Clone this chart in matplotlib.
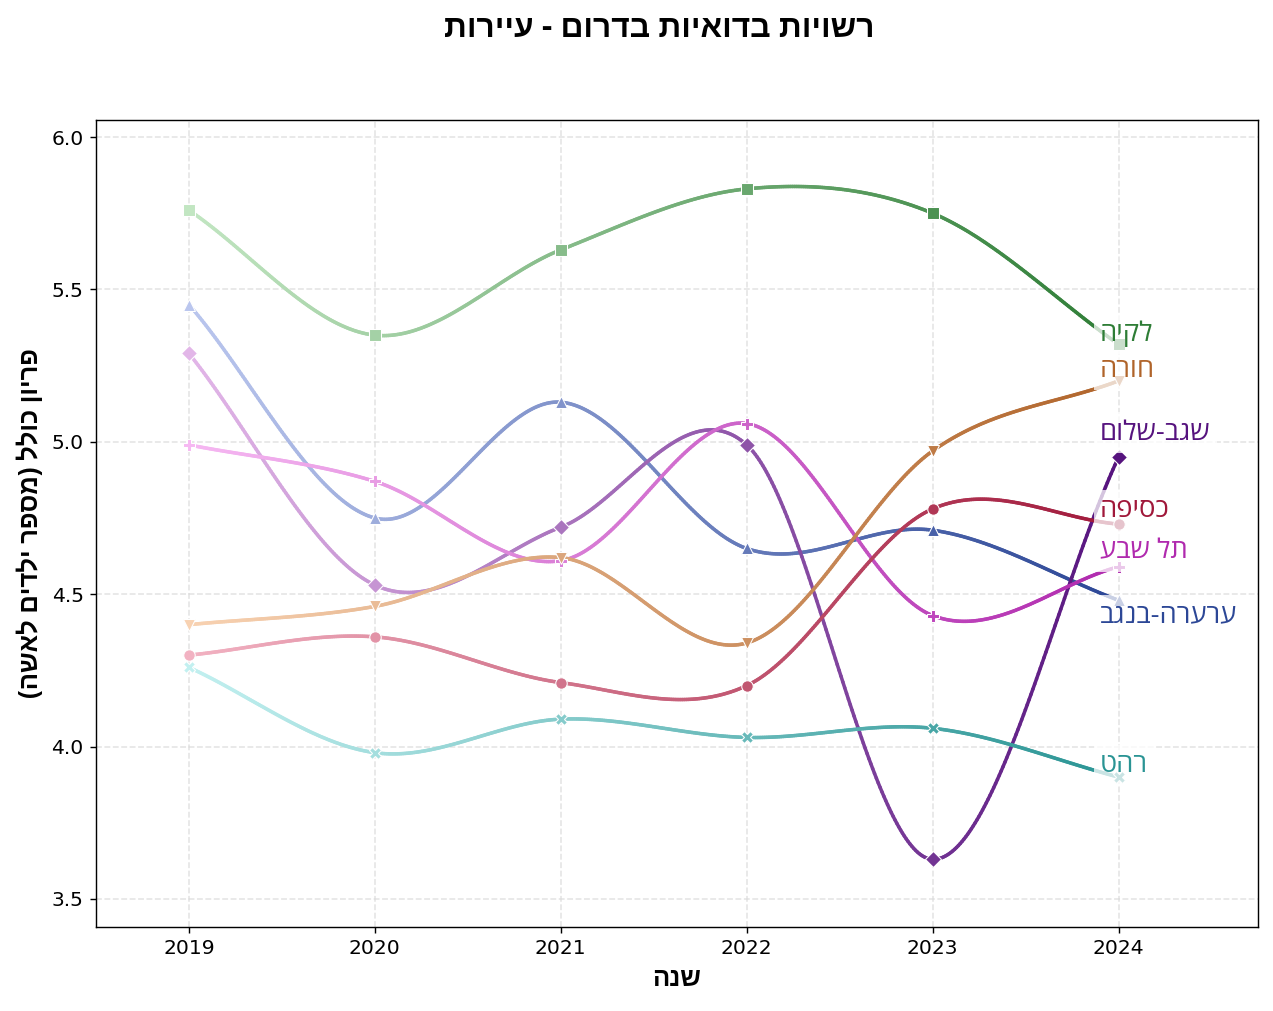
import numpy as np
import matplotlib
matplotlib.use("Agg")
import matplotlib.pyplot as plt
from matplotlib.collections import LineCollection
from matplotlib.colors import LinearSegmentedColormap

years = [2019, 2020, 2021, 2022, 2023, 2024]

names = ["לקיה", "ערערה-בנגב", "שגב-שלום", "תל שבע", "חורה", "כסיפה", "רהט"]
lakiya = [5.76, 5.35, 5.63, 5.83, 5.75, 5.32]
arara = [5.45, 4.75, 5.13, 4.65, 4.71, 4.48]
segev = [5.29, 4.53, 4.72, 4.99, 3.63, 4.95]
telsheva = [4.99, 4.87, 4.61, 5.06, 4.43, 4.59]
hura = [4.40, 4.46, 4.62, 4.34, 4.97, 5.20]
kseife = [4.30, 4.36, 4.21, 4.20, 4.78, 4.73]
rahat = [4.26, 3.98, 4.09, 4.03, 4.06, 3.90]
series = [lakiya, arara, segev, telsheva, hura, kseife, rahat]

markers = ["s", "^", "D", "P", "v", "o", "X"]
light = ["#c2e6c2", "#bac6ee", "#e2b6e8", "#f6b8f2", "#f8d2b2", "#f2b2c2", "#c2f0f0"]
dark = ["#2e7d36", "#2c4796", "#56137e", "#b02aae", "#b0642a", "#a0183a", "#2a9494"]
label_offsets = [0.035, -0.05, 0.08, 0.05, 0.036, 0.046, 0.04]

title = "רשויות בדואיות בדרום - עיירות"
xlabel = "שנה"
ylabel = "פריון כולל (מספר ילדים לאשה)"

HEB = ["Open Sans", "Liberation Sans", "DejaVu Sans"]


def visual(s):
    """Right-to-left display order for matplotlib (which has no bidi support)."""
    mirror = {"(": ")", ")": "("}
    return "".join(mirror.get(c, c) for c in s[::-1])


def hermite_curve(x, y, xs):
    x = np.asarray(x, float)
    y = np.asarray(y, float)
    m = np.gradient(y, x)
    idx = np.clip(np.searchsorted(x, xs, side="right") - 1, 0, len(x) - 2)
    h = x[idx + 1] - x[idx]
    t = (xs - x[idx]) / h
    h00 = 2 * t ** 3 - 3 * t ** 2 + 1
    h10 = t ** 3 - 2 * t ** 2 + t
    h01 = -2 * t ** 3 + 3 * t ** 2
    h11 = t ** 3 - t ** 2
    return h00 * y[idx] + h10 * h * m[idx] + h01 * y[idx + 1] + h11 * h * m[idx + 1]


fig = plt.figure(figsize=(1273 / 127, 1011 / 127), dpi=127)
ax = fig.add_axes([0.0754, 0.0831, 0.9128, 0.7982])

ax.grid(True, linestyle="--", color="#d9d9d9", linewidth=0.9, alpha=0.7)
ax.set_axisbelow(True)

xs = np.linspace(years[0], years[-1], 500)
for vals, mk, lc, dc, off, name in zip(series, markers, light, dark, label_offsets, names):
    cmap = LinearSegmentedColormap.from_list("g", [lc, dc])
    ys = hermite_curve(years, vals, xs)
    pts = np.column_stack([xs, ys]).reshape(-1, 1, 2)
    segs = np.concatenate([pts[:-1], pts[1:]], axis=1)
    tt = (xs[:-1] - years[0]) / (years[-1] - years[0])
    lcol = LineCollection(segs, colors=cmap(tt), linewidth=2.0, capstyle="round", zorder=2)
    ax.add_collection(lcol)
    for yr, v in zip(years, vals):
        t = (yr - years[0]) / (years[-1] - years[0])
        ax.plot(yr, v, marker=mk, color=cmap(t), markersize=6.5,
                markeredgecolor="white", markeredgewidth=0.6, zorder=3, linestyle="none")
    ax.text(years[-1] - 0.1, vals[-1] + off, visual(name), color=dc, fontsize=15.5, family=HEB,
            ha="left", va="center", zorder=4,
            bbox=dict(facecolor="white", edgecolor="none", alpha=0.75, pad=3.5))

ax.set_xlim(2018.5, 2024.75)
ax.set_ylim(3.408, 6.056)
ax.set_xticks(years)
ax.set_xticklabels([str(y) for y in years])
ax.set_yticks([3.5, 4.0, 4.5, 5.0, 5.5, 6.0])
ax.tick_params(labelsize=11.5)
ax.set_xlabel(visual(xlabel), fontsize=14.5, fontweight="bold", family=HEB)
ax.set_ylabel(visual(ylabel), fontsize=14.5, fontweight="bold", family=HEB)
fig.suptitle(visual(title), fontsize=18, fontweight="bold", x=0.5177, y=0.988, family=HEB)

fig.savefig("out.png", dpi=127)
